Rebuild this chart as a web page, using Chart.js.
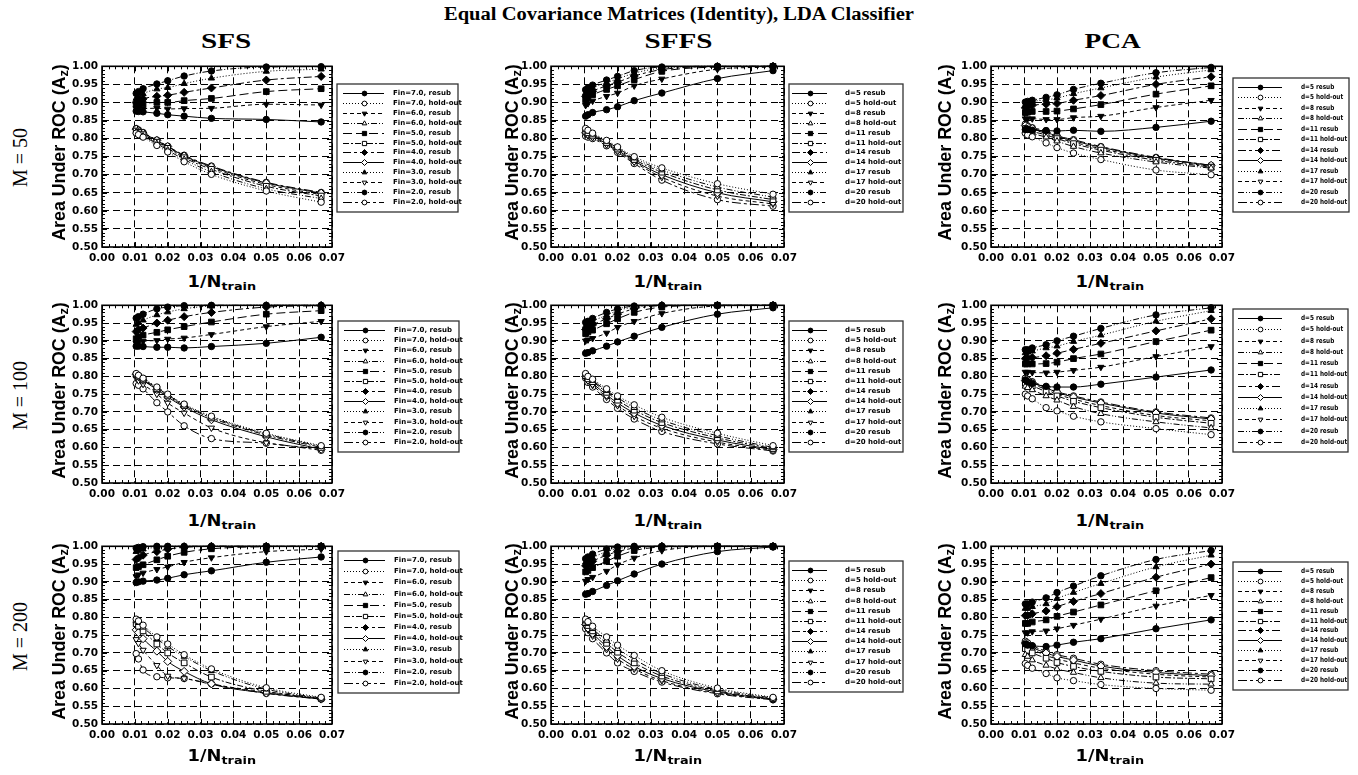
<!DOCTYPE html>
<html><head><meta charset="utf-8">
<script src="https://cdn.jsdelivr.net/npm/chart.js@4.4.1/dist/chart.umd.min.js"></script>
<style>
html,body{margin:0;padding:0;background:#fff;}
body{width:1358px;height:775px;position:relative;overflow:hidden;}
canvas{position:absolute;}
.t{position:absolute;white-space:nowrap;color:#000;line-height:1;}
.t sub{font-size:72%;vertical-align:-0.25em;line-height:0;}
</style></head><body>
<script>
// ---------------- DATA ----------------
const xValues = [0.0104, 0.0111, 0.0125, 0.0167, 0.0200, 0.0250, 0.0333, 0.0500, 0.0667];
const xTickValues = [0, 0.01, 0.02, 0.03, 0.04, 0.05, 0.06, 0.07];
const xTickLabels = ['0.00','0.01','0.02','0.03','0.04','0.05','0.06','0.07'];
const yTickValues = [0.50,0.55,0.60,0.65,0.70,0.75,0.80,0.85,0.90,0.95,1.00];
const yTickLabels = ['0.50','0.55','0.60','0.65','0.70','0.75','0.80','0.85','0.90','0.95','1.00'];
const finLabels = ['Fin=7.0, resub','Fin=7.0, hold-out','Fin=6.0, resub','Fin=6.0, hold-out','Fin=5.0, resub','Fin=5.0, hold-out','Fin=4.0, resub','Fin=4.0, hold-out','Fin=3.0, resub','Fin=3.0, hold-out','Fin=2.0, resub','Fin=2.0, hold-out'];
const dLabels = ['d=5 resub','d=5 hold-out','d=8 resub','d=8 hold-out','d=11 resub','d=11 hold-out','d=14 resub','d=14 hold-out','d=17 resub','d=17 hold-out','d=20 resub','d=20 hold-out'];
const mainTitle = 'Equal Covariance Matrices (Identity), LDA Classifier';
const colTitles = ['SFS','SFFS','PCA'];
const rowTitles = ['M = 50','M = 100','M = 200'];

const sfsM50 = [
 [0.876,0.875,0.874,0.870,0.866,0.862,0.856,0.853,0.846],
 [0.815,0.811,0.804,0.781,0.763,0.736,0.701,0.655,0.624],
 [0.884,0.884,0.883,0.884,0.882,0.883,0.884,0.895,0.893],
 [0.818,0.814,0.807,0.786,0.768,0.742,0.708,0.661,0.634],
 [0.893,0.895,0.897,0.900,0.900,0.905,0.911,0.930,0.938],
 [0.821,0.817,0.811,0.790,0.773,0.747,0.715,0.668,0.641],
 [0.900,0.904,0.910,0.917,0.920,0.928,0.940,0.962,0.972],
 [0.826,0.822,0.815,0.795,0.778,0.752,0.722,0.677,0.649],
 [0.911,0.916,0.924,0.937,0.941,0.952,0.967,0.986,0.992],
 [0.823,0.819,0.813,0.792,0.776,0.750,0.719,0.673,0.645],
 [0.925,0.930,0.938,0.951,0.960,0.973,0.987,0.998,0.999],
 [0.828,0.824,0.817,0.796,0.779,0.754,0.724,0.679,0.651]
];
const sffsM50 = [
 [0.862,0.866,0.872,0.880,0.888,0.905,0.926,0.966,0.988],
 [0.828,0.823,0.815,0.795,0.777,0.750,0.719,0.675,0.646],
 [0.892,0.897,0.904,0.917,0.926,0.946,0.965,0.992,0.998],
 [0.825,0.820,0.812,0.792,0.774,0.746,0.713,0.666,0.638],
 [0.907,0.913,0.921,0.936,0.946,0.963,0.986,0.998,1.000],
 [0.820,0.816,0.809,0.789,0.771,0.742,0.707,0.658,0.631],
 [0.917,0.923,0.931,0.946,0.956,0.973,0.991,0.999,1.000],
 [0.816,0.812,0.806,0.786,0.768,0.738,0.700,0.650,0.625],
 [0.926,0.931,0.940,0.955,0.965,0.981,0.995,1.000,1.000],
 [0.812,0.808,0.803,0.783,0.765,0.735,0.693,0.641,0.619],
 [0.935,0.940,0.948,0.962,0.972,0.988,0.998,1.000,1.000],
 [0.807,0.804,0.800,0.780,0.762,0.731,0.685,0.631,0.613]
];
const pcaM50 = [
 [0.825,0.825,0.823,0.822,0.821,0.823,0.820,0.831,0.848],
 [0.815,0.810,0.805,0.788,0.775,0.760,0.742,0.713,0.700],
 [0.855,0.855,0.855,0.853,0.853,0.858,0.862,0.886,0.906],
 [0.822,0.818,0.814,0.804,0.793,0.778,0.760,0.735,0.718],
 [0.872,0.873,0.875,0.875,0.876,0.882,0.894,0.923,0.946],
 [0.828,0.825,0.820,0.810,0.800,0.786,0.768,0.740,0.721],
 [0.885,0.888,0.892,0.895,0.897,0.906,0.919,0.950,0.971],
 [0.836,0.832,0.828,0.818,0.806,0.794,0.776,0.746,0.726],
 [0.893,0.896,0.902,0.907,0.912,0.924,0.940,0.970,0.990],
 [0.832,0.828,0.824,0.815,0.803,0.790,0.772,0.744,0.723],
 [0.901,0.903,0.906,0.914,0.921,0.936,0.953,0.982,0.997],
 [0.840,0.835,0.830,0.822,0.808,0.797,0.778,0.748,0.726]
];
const sfsM100 = [
 [0.885,0.885,0.884,0.882,0.882,0.880,0.884,0.893,0.910],
 [0.808,0.803,0.795,0.770,0.750,0.722,0.688,0.640,0.605],
 [0.893,0.896,0.899,0.901,0.905,0.908,0.918,0.940,0.955],
 [0.806,0.801,0.792,0.768,0.748,0.720,0.686,0.638,0.603],
 [0.906,0.911,0.916,0.924,0.931,0.940,0.953,0.975,0.985],
 [0.805,0.800,0.790,0.765,0.745,0.718,0.683,0.635,0.600],
 [0.926,0.931,0.936,0.950,0.958,0.968,0.980,0.995,0.999],
 [0.806,0.799,0.789,0.763,0.742,0.714,0.678,0.630,0.595],
 [0.946,0.951,0.958,0.973,0.981,0.990,0.998,1.000,1.000],
 [0.795,0.788,0.778,0.750,0.725,0.697,0.655,0.613,0.597],
 [0.964,0.968,0.975,0.990,0.995,0.999,1.000,1.000,1.000],
 [0.780,0.775,0.765,0.726,0.700,0.661,0.625,0.612,0.592]
];
const sffsM100 = [
 [0.865,0.867,0.872,0.885,0.897,0.913,0.938,0.975,0.993],
 [0.808,0.800,0.792,0.765,0.745,0.720,0.685,0.640,0.605],
 [0.900,0.903,0.907,0.922,0.938,0.955,0.977,0.998,1.000],
 [0.805,0.797,0.788,0.760,0.740,0.712,0.677,0.633,0.600],
 [0.920,0.925,0.930,0.948,0.962,0.980,0.995,1.000,1.000],
 [0.802,0.793,0.785,0.755,0.733,0.705,0.670,0.627,0.597],
 [0.932,0.937,0.945,0.962,0.975,0.990,0.999,1.000,1.000],
 [0.800,0.790,0.780,0.748,0.725,0.697,0.662,0.621,0.594],
 [0.942,0.947,0.955,0.972,0.985,0.995,1.000,1.000,1.000],
 [0.797,0.787,0.775,0.742,0.718,0.688,0.654,0.615,0.592],
 [0.952,0.955,0.963,0.980,0.990,0.998,1.000,1.000,1.000],
 [0.795,0.783,0.770,0.735,0.710,0.680,0.645,0.610,0.590]
];
const pcaM100 = [
 [0.790,0.785,0.780,0.772,0.770,0.770,0.778,0.798,0.818],
 [0.750,0.745,0.737,0.712,0.703,0.688,0.672,0.653,0.636],
 [0.812,0.812,0.811,0.810,0.812,0.817,0.826,0.856,0.884],
 [0.772,0.768,0.762,0.745,0.733,0.715,0.695,0.672,0.655],
 [0.835,0.835,0.835,0.836,0.840,0.850,0.863,0.898,0.930],
 [0.780,0.777,0.773,0.757,0.745,0.730,0.712,0.685,0.668],
 [0.850,0.852,0.853,0.858,0.865,0.876,0.893,0.928,0.962],
 [0.788,0.785,0.782,0.768,0.755,0.742,0.725,0.697,0.680],
 [0.866,0.868,0.871,0.880,0.885,0.898,0.916,0.955,0.985],
 [0.785,0.782,0.778,0.763,0.750,0.736,0.718,0.690,0.675],
 [0.875,0.875,0.880,0.889,0.900,0.913,0.935,0.973,0.993],
 [0.795,0.790,0.785,0.770,0.757,0.745,0.728,0.700,0.683]
];
const sfsM200 = [
 [0.898,0.900,0.902,0.905,0.910,0.920,0.931,0.955,0.970],
 [0.795,0.790,0.778,0.745,0.725,0.695,0.655,0.602,0.575],
 [0.915,0.920,0.925,0.935,0.942,0.955,0.968,0.985,0.992],
 [0.790,0.785,0.772,0.740,0.718,0.690,0.650,0.598,0.573],
 [0.940,0.943,0.948,0.962,0.972,0.983,0.993,0.999,1.000],
 [0.782,0.775,0.762,0.725,0.700,0.672,0.632,0.592,0.572],
 [0.963,0.967,0.975,0.985,0.992,0.997,1.000,1.000,1.000],
 [0.765,0.757,0.740,0.705,0.676,0.648,0.613,0.587,0.570],
 [0.985,0.988,0.992,0.997,0.999,1.000,1.000,1.000,1.000],
 [0.738,0.727,0.708,0.665,0.635,0.628,0.612,0.590,0.571],
 [0.995,0.997,0.999,1.000,1.000,1.000,1.000,1.000,1.000],
 [0.698,0.683,0.652,0.633,0.630,0.628,0.613,0.586,0.570]
];
const sffsM200 = [
 [0.865,0.867,0.873,0.890,0.903,0.922,0.950,0.985,0.998],
 [0.795,0.788,0.775,0.745,0.722,0.693,0.650,0.601,0.575],
 [0.902,0.907,0.913,0.930,0.948,0.967,0.988,1.000,1.000],
 [0.790,0.782,0.768,0.735,0.712,0.682,0.642,0.597,0.573],
 [0.928,0.932,0.940,0.958,0.972,0.988,0.998,1.000,1.000],
 [0.785,0.777,0.762,0.727,0.702,0.672,0.635,0.593,0.571],
 [0.945,0.950,0.958,0.975,0.985,0.995,1.000,1.000,1.000],
 [0.780,0.770,0.755,0.718,0.692,0.662,0.628,0.590,0.570],
 [0.955,0.960,0.968,0.985,0.993,0.999,1.000,1.000,1.000],
 [0.775,0.765,0.748,0.710,0.683,0.655,0.622,0.587,0.569],
 [0.965,0.970,0.978,0.992,0.998,1.000,1.000,1.000,1.000],
 [0.768,0.757,0.740,0.700,0.672,0.648,0.618,0.585,0.568]
];
const pcaM200 = [
 [0.725,0.722,0.720,0.718,0.722,0.730,0.740,0.768,0.793],
 [0.670,0.665,0.657,0.642,0.630,0.622,0.611,0.600,0.595],
 [0.757,0.757,0.760,0.762,0.768,0.778,0.795,0.832,0.862],
 [0.695,0.690,0.680,0.665,0.655,0.645,0.630,0.615,0.612],
 [0.783,0.783,0.787,0.793,0.803,0.815,0.835,0.875,0.912],
 [0.712,0.707,0.700,0.685,0.673,0.662,0.648,0.632,0.627],
 [0.805,0.805,0.810,0.818,0.830,0.845,0.867,0.913,0.950],
 [0.728,0.722,0.715,0.700,0.690,0.680,0.663,0.645,0.636],
 [0.825,0.825,0.830,0.838,0.853,0.870,0.895,0.942,0.975],
 [0.725,0.718,0.710,0.693,0.683,0.672,0.657,0.640,0.632],
 [0.838,0.838,0.843,0.855,0.870,0.888,0.917,0.963,0.988],
 [0.733,0.728,0.720,0.705,0.695,0.685,0.668,0.650,0.640]
];

// ---------------- STYLE / LAYOUT ----------------
const seriesStyle = [
 {dash:[], shape:'circle', fill:true, rot:0, r:3.2},
 {dash:[1,2], shape:'circle', fill:false, rot:0, r:3.2},
 {dash:[4,3], shape:'triangle', fill:true, rot:180, r:3.6},
 {dash:[6,2,1,2,1,2], shape:'triangle', fill:false, rot:0, r:3.6},
 {dash:[9,4], shape:'rect', fill:true, rot:0, r:4},
 {dash:[6,2,2,2], shape:'rect', fill:false, rot:0, r:4},
 {dash:[8,3,3,3], shape:'rectRot', fill:true, rot:0, r:4},
 {dash:[], shape:'rectRot', fill:false, rot:0, r:4},
 {dash:[1,2], shape:'triangle', fill:true, rot:0, r:3.6},
 {dash:[4,3], shape:'triangle', fill:false, rot:180, r:3.6},
 {dash:[6,2,1,2,1,2], shape:'circle', fill:true, rot:0, r:3.2},
 {dash:[9,3,3,3], shape:'circle', fill:false, rot:0, r:3.2}
];
const plotL = [102, 551, 991], plotR = [332, 784, 1222];
const plotT = [66, 305, 546], plotB = [247, 483, 724];
const legendCol = [{s:6,e:47,t:56,sx:1},{s:3,e:38,t:56,sx:1},{s:5,e:49,t:68,sx:0.82}];
const panels = [
 {r:0,c:0,data:sfsM50,labels:finLabels,box:[337,84,458,212]},
 {r:0,c:1,data:sffsM50,labels:dLabels,box:[789,84,903,212]},
 {r:0,c:2,data:pcaM50,labels:dLabels,box:[1233,78,1349,212]},
 {r:1,c:0,data:sfsM100,labels:finLabels,box:[338,321,459,452]},
 {r:1,c:1,data:sffsM100,labels:dLabels,box:[789,321,903,452]},
 {r:1,c:2,data:pcaM100,labels:dLabels,box:[1233,309,1348,452]},
 {r:2,c:0,data:sfsM200,labels:finLabels,box:[338,551,459,693]},
 {r:2,c:1,data:sffsM200,labels:dLabels,box:[789,561,903,692]},
 {r:2,c:2,data:pcaM200,labels:dLabels,box:[1233,562,1348,690]}
];
const TICK_FONT = {family:'"DejaVu Sans", sans-serif', weight:'bold', size:10.5};

function drawMarker(ctx, st, x, y, scale){
  ctx.save();
  ctx.setLineDash([]);
  ctx.fillStyle = st.fill ? '#000' : '#fff';
  ctx.strokeStyle = '#000'; ctx.lineWidth = 1;
  const rad = st.r * scale;
  if (Chart.helpers && Chart.helpers.drawPoint) {
    Chart.helpers.drawPoint(ctx, {pointStyle: st.shape, rotation: st.rot, radius: rad, borderWidth: 1}, x, y);
  } else {
    ctx.beginPath(); ctx.arc(x, y, rad, 0, Math.PI*2); ctx.fill(); ctx.stroke();
  }
  ctx.restore();
}

const framePlugin = {
  id: 'frame',
  beforeDatasetsDraw(chart){
    const {ctx, chartArea:a, scales} = chart;
    const xs = scales.x, ys = scales.y;
    ctx.save();
    ctx.setLineDash([]);
    ctx.strokeStyle = '#000';
    ctx.lineWidth = 1;
    ctx.beginPath();
    for (let i = 0; i <= 35; i++) {
      const px = Math.round(xs.getPixelForValue(i*0.002)) + 0.5;
      const len = (i % 5 === 0) ? 5 : 3;
      ctx.moveTo(px, a.bottom); ctx.lineTo(px, a.bottom - len);
      ctx.moveTo(px, a.top); ctx.lineTo(px, a.top + len);
    }
    for (let i = 0; i <= 50; i++) {
      const py = Math.round(ys.getPixelForValue(0.5 + i*0.01)) + 0.5;
      const len = (i % 5 === 0) ? 5 : 3;
      ctx.moveTo(a.left, py); ctx.lineTo(a.left + len, py);
      ctx.moveTo(a.right, py); ctx.lineTo(a.right - len, py);
    }
    ctx.stroke();
    ctx.lineWidth = 1.6;
    ctx.strokeRect(a.left, a.top, a.right - a.left, a.bottom - a.top);
    ctx.restore();
  }
};

function makeLegendPlugin(box, lc, originX, originY){
  return {
    id: 'boxLegend',
    afterDraw(chart){
      const ctx = chart.ctx;
      const l = box[0]-originX, t = box[1]-originY, r = box[2]-originX, b = box[3]-originY;
      ctx.save();
      ctx.fillStyle = '#fff';
      ctx.fillRect(l, t, r-l, b-t);
      ctx.strokeStyle = '#333'; ctx.lineWidth = 1.3; ctx.setLineDash([]);
      ctx.strokeRect(l, t, r-l, b-t);
      const ds = chart.data.datasets;
      const n = ds.length;
      const y0 = t + 9, y1 = b - 10;
      const step = (y1 - y0) / (n - 1);
      ctx.font = 'bold 7px "DejaVu Sans", sans-serif';
      ctx.textBaseline = 'middle';
      ctx.textAlign = 'left';
      for (let i = 0; i < n; i++) {
        const y = Math.round(y0 + i*step) + 0.5;
        const st = seriesStyle[i];
        ctx.strokeStyle = '#000'; ctx.lineWidth = 1;
        ctx.setLineDash(st.dash);
        ctx.beginPath(); ctx.moveTo(l + lc.s, y); ctx.lineTo(l + lc.e, y); ctx.stroke();
        drawMarker(ctx, st, Math.round((l + lc.s + l + lc.e)/2) + 0.5, y, 0.75);
        ctx.fillStyle = '#000';
        ctx.save();
        ctx.translate(l + lc.t, y);
        ctx.scale(lc.sx, 1);
        ctx.fillText(ds[i].label, 0, 0);
        ctx.restore();
      }
      ctx.restore();
    }
  };
}

panels.forEach(p => {
  const cl = plotL[p.c] - 50;
  const ct = Math.min(plotT[p.r], p.box[1]) - 10;
  const cr = p.box[2] + 4;
  const cb = Math.max(plotB[p.r], p.box[3]) + 26;
  const w = cr - cl, h = cb - ct;
  const cv = document.createElement('canvas');
  cv.width = w; cv.height = h;
  cv.style.left = cl + 'px'; cv.style.top = ct + 'px';
  cv.style.width = w + 'px'; cv.style.height = h + 'px';
  document.body.appendChild(cv);
  const datasets = p.data.map((vals, i) => {
    const st = seriesStyle[i];
    return {
      label: p.labels[i],
      data: xValues.map((x, j) => ({x: x, y: vals[j]})),
      borderColor: '#000', borderWidth: 1, borderDash: st.dash,
      pointStyle: st.shape, pointRotation: st.rot, pointRadius: st.r,
      pointBackgroundColor: st.fill ? '#000' : '#fff',
      pointBorderColor: '#000', pointBorderWidth: 1,
      fill: false, cubicInterpolationMode: 'monotone', clip: 8
    };
  });
  new Chart(cv, {
    type: 'line',
    data: {datasets},
    options: {
      responsive: false, animation: false, devicePixelRatio: 1,
      events: [],
      layout: {padding: {left: 10, top: plotT[p.r] - ct, right: cr - plotR[p.c], bottom: cb - plotB[p.r] - 20}},
      plugins: {legend: {display: false}, tooltip: {enabled: false}, title: {display: false}},
      scales: {
        x: {
          type: 'linear', min: 0, max: 0.07,
          afterFit: s => { s.height = 20; },
          afterBuildTicks: s => { s.ticks = xTickValues.map(v => ({value: v})); },
          ticks: {callback: (v, i) => xTickLabels[i], font: TICK_FONT, color: '#000', padding: 5, maxRotation: 0, autoSkip: false},
          grid: {color: '#000', lineWidth: 1, drawTicks: false},
          border: {display: false, dash: [7, 4]}
        },
        y: {
          type: 'linear', min: 0.5, max: 1.0,
          afterFit: s => { s.width = 40; },
          afterBuildTicks: s => { s.ticks = yTickValues.map(v => ({value: v})); },
          ticks: {callback: (v, i) => yTickLabels[i], font: TICK_FONT, color: '#000', padding: 4, autoSkip: false},
          grid: {color: '#000', lineWidth: 1, drawTicks: false},
          border: {display: false, dash: [7, 4]}
        }
      }
    },
    plugins: [framePlugin, makeLegendPlugin(p.box, legendCol[p.c], cl, ct)]
  });
});

// ---------------- TEXT ----------------
function addText(html, cx, cy, font, len, rotate){
  const d = document.createElement('div');
  d.className = 't'; d.innerHTML = html; d.style.font = font;
  document.body.appendChild(d);
  const w = d.offsetWidth, h = d.offsetHeight;
  d.style.left = (cx - w/2) + 'px'; d.style.top = (cy - h/2) + 'px';
  const sx = len ? len / w : 1;
  d.style.transformOrigin = '50% 50%';
  d.style.transform = (rotate ? 'rotate(-90deg) ' : '') + 'scaleX(' + sx + ')';
}
addText(mainTitle, 679, 14, 'bold 18px "Liberation Serif", serif', 470, false);
const colTitleX = [226, 678, 1112], colTitleW = [50, 68, 56];
colTitles.forEach((t, i) => addText(t, colTitleX[i], 41, 'bold 21px "Liberation Serif", serif', colTitleW[i], false));
const rowTitleY = [157, 395, 636];
rowTitles.forEach((t, i) => addText(t, 20, rowTitleY[i], '20px "Liberation Serif", serif', 0, true));
const yTitleX = [59, 512, 945];
const xTitleX = [222, 668, 1110], xTitleY = [282, 521, 756];
for (let r = 0; r < 3; r++) {
  for (let c = 0; c < 3; c++) {
    addText('Area Under ROC (A<sub>z</sub>)', yTitleX[c], (plotT[r] + plotB[r]) / 2 - 4, 'bold 18px "Liberation Sans", Arial, sans-serif', 177, true);
    addText('1/N<sub>train</sub>', xTitleX[c], xTitleY[r], 'bold 15px "DejaVu Sans", sans-serif', 69, false);
  }
}
</script>
</body></html>
